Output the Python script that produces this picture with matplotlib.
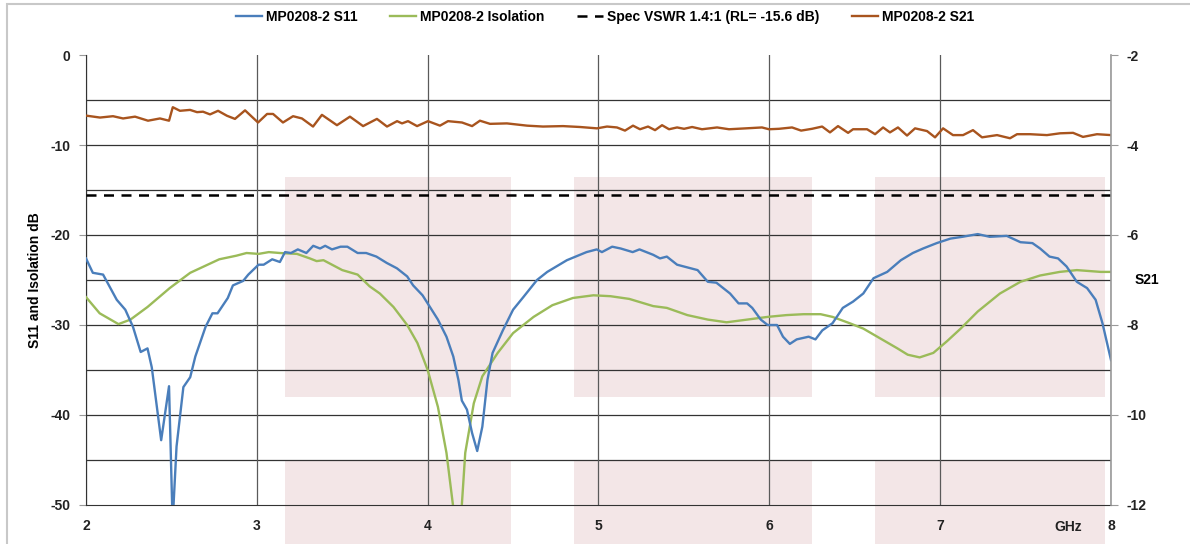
import matplotlib
matplotlib.use("Agg")
import matplotlib.pyplot as plt
from matplotlib.patches import Rectangle

plt.rcParams['font.family'] = ['Liberation Sans', 'DejaVu Sans']
plt.rcParams['font.weight'] = 'bold'
plt.rcParams['axes.unicode_minus'] = False

# S11 (dB) vs GHz
s11_f = [2.0, 2.04, 2.10, 2.18, 2.23, 2.275, 2.32, 2.36, 2.385, 2.44, 2.46, 2.486, 2.507, 2.53, 2.57,
         2.61, 2.64, 2.70, 2.74, 2.77, 2.83, 2.86, 2.92, 2.95, 3.01, 3.04, 3.09, 3.135, 3.165, 3.20,
         3.24, 3.29, 3.33, 3.37, 3.40, 3.44, 3.49, 3.53, 3.59, 3.64, 3.70, 3.76, 3.82, 3.88, 3.915,
         3.97, 4.0, 4.06, 4.11, 4.15, 4.18, 4.20, 4.23, 4.26, 4.29, 4.32, 4.35, 4.38, 4.44, 4.50,
         4.56, 4.64, 4.70, 4.815, 4.93, 4.99, 5.02, 5.08, 5.13, 5.20, 5.24, 5.32, 5.36, 5.40, 5.46,
         5.58, 5.64, 5.69, 5.77, 5.82, 5.87, 5.90, 5.95, 5.99, 6.045, 6.08, 6.12, 6.16, 6.23, 6.27,
         6.31, 6.37, 6.43, 6.49, 6.55, 6.61, 6.69, 6.77, 6.84, 6.90, 6.98, 7.06, 7.13, 7.22, 7.29,
         7.39, 7.47, 7.54, 7.585, 7.64, 7.69, 7.74, 7.80, 7.86, 7.91, 7.95, 8.0]
s11_db = [-22.6, -24.2, -24.4, -27.2, -28.3, -30.2, -33.0, -32.6, -34.7, -42.8, -40.2, -36.8, -52.0, -43.5, -36.9,
          -35.8, -33.5, -30.2, -28.7, -28.7, -27.0, -25.6, -25.1, -24.4, -23.3, -23.3, -22.7, -23.0, -21.9, -22.0,
          -21.6, -22.0, -21.2, -21.5, -21.2, -21.6, -21.3, -21.3, -22.0, -22.0, -22.4, -23.1, -23.7, -24.6, -25.6,
          -26.7, -27.6, -29.4, -31.3, -33.5, -36.1, -38.4, -39.4, -42.0, -44.0, -41.3, -36.1, -33.1, -30.6, -28.3,
          -26.9, -25.0, -24.1, -22.8, -21.9, -21.6, -21.9, -21.3, -21.5, -21.9, -21.6, -22.2, -22.6, -22.4, -23.3,
          -23.9, -25.2, -25.3, -26.5, -27.6, -27.6, -28.1, -29.4, -30.0, -30.0, -31.3, -32.1, -31.6, -31.3, -31.6,
          -30.6, -29.8, -28.1, -27.4, -26.5, -24.8, -24.1, -22.8, -22.0, -21.5, -20.9, -20.4, -20.2, -19.9, -20.2,
          -20.1, -20.8, -20.9, -21.5, -22.4, -22.6, -23.5, -25.2, -25.9, -27.2, -29.8, -33.9]

# Isolation (dB) vs GHz
iso_f = [2.0, 2.08, 2.19, 2.26, 2.36, 2.49, 2.61, 2.78, 2.88, 2.94, 3.01, 3.07, 3.135, 3.235, 3.31,
         3.35, 3.39, 3.50, 3.59, 3.66, 3.72, 3.80, 3.88, 3.94, 4.0, 4.06, 4.11, 4.148, 4.175, 4.20,
         4.22, 4.27, 4.32, 4.41, 4.50, 4.62, 4.73, 4.85, 4.97, 5.07, 5.18, 5.32, 5.40, 5.52, 5.64,
         5.75, 5.87, 5.99, 6.10, 6.20, 6.30, 6.37, 6.47, 6.55, 6.65, 6.75, 6.81, 6.88, 6.96, 7.04,
         7.12, 7.22, 7.35, 7.47, 7.585, 7.70, 7.80, 7.94, 8.0]
iso_db = [-26.9, -28.7, -29.9, -29.4, -28.0, -25.9, -24.2, -22.7, -22.3, -22.0, -22.1, -21.9, -22.0, -22.1, -22.6,
          -22.9, -22.8, -23.9, -24.4, -25.7, -26.5, -28.0, -30.0, -32.0, -35.0, -39.1, -44.2, -50.0, -56.0, -50.0,
          -44.2, -38.7, -35.7, -33.1, -30.9, -29.1, -27.8, -27.0, -26.7, -26.8, -27.1, -27.9, -28.1, -28.9, -29.4,
          -29.7, -29.4, -29.1, -28.9, -28.8, -28.8, -29.1, -29.8, -30.4, -31.5, -32.6, -33.3, -33.6, -33.1, -31.8,
          -30.4, -28.5, -26.5, -25.2, -24.5, -24.1, -23.9, -24.1, -24.1]

# S21 (dB, right axis) vs GHz
s21_f = [2.006, 2.082, 2.158, 2.217, 2.287, 2.363, 2.433, 2.486, 2.508, 2.550, 2.609, 2.650, 2.685, 2.726, 2.773,
         2.825, 2.872, 2.931, 3.007, 3.060, 3.095, 3.153, 3.212, 3.264, 3.329, 3.381, 3.469, 3.545, 3.622, 3.703,
         3.762, 3.821, 3.850, 3.885, 3.938, 4.002, 4.072, 4.119, 4.201, 4.260, 4.306, 4.365, 4.464, 4.582, 4.675,
         4.792, 4.892, 4.991, 5.050, 5.108, 5.155, 5.202, 5.243, 5.290, 5.331, 5.372, 5.413, 5.460, 5.501, 5.548,
         5.606, 5.694, 5.764, 5.863, 5.957, 5.998, 6.057, 6.133, 6.186, 6.250, 6.309, 6.355, 6.402, 6.461, 6.490,
         6.572, 6.619, 6.666, 6.706, 6.753, 6.806, 6.853, 6.923, 6.970, 7.017, 7.075, 7.134, 7.192, 7.245, 7.333,
         7.409, 7.450, 7.526, 7.625, 7.702, 7.778, 7.836, 7.918, 8.0]
s21_db = [-3.35, -3.39, -3.36, -3.41, -3.37, -3.46, -3.41, -3.46, -3.16, -3.24, -3.22, -3.27, -3.26, -3.32, -3.24,
          -3.35, -3.42, -3.23, -3.50, -3.31, -3.31, -3.50, -3.36, -3.41, -3.59, -3.33, -3.56, -3.37, -3.58, -3.42,
          -3.59, -3.47, -3.52, -3.47, -3.58, -3.47, -3.57, -3.47, -3.50, -3.58, -3.46, -3.53, -3.52, -3.57, -3.59,
          -3.58, -3.60, -3.63, -3.59, -3.61, -3.68, -3.57, -3.65, -3.59, -3.67, -3.56, -3.65, -3.61, -3.64, -3.60,
          -3.65, -3.61, -3.65, -3.63, -3.61, -3.65, -3.64, -3.61, -3.68, -3.64, -3.59, -3.72, -3.58, -3.73, -3.65,
          -3.65, -3.76, -3.61, -3.72, -3.61, -3.79, -3.63, -3.69, -3.83, -3.63, -3.78, -3.78, -3.67, -3.83, -3.78,
          -3.85, -3.76, -3.76, -3.78, -3.74, -3.73, -3.82, -3.76, -3.78]

spec_rl = -15.6
bands = [(3.165, 4.488), (4.857, 6.247), (6.619, 7.965)]

fig = plt.figure(figsize=(11.9, 5.44), dpi=100)
ax = fig.add_axes([86/1190, 1-505/544, (1111-86)/1190, (505-55)/544])
ax2 = ax.twinx()

# pink bands (split around -38..-45)
for a, b in bands:
    ax.add_patch(Rectangle((a, -38.0), b-a, 24.4, facecolor='#f3e6e7', edgecolor='none', zorder=0.2))
    ax.add_patch(Rectangle((a, -60.0), b-a, 15.0, facecolor='#f3e6e7', edgecolor='none', zorder=0.2, clip_on=False))

ax.set_xlim(2, 8)
ax.set_ylim(-50, 0)
ax.set_xticks(range(2, 9))
ax.set_yticks(range(-50, 1, 10))
ax.grid(True, which='major', axis='x', color='#5a5a5a', lw=0.9, zorder=0.5)
for yv in range(-45, 0, 5):
    ax.axhline(yv, color='#333333', lw=0.9, zorder=0.5)

l_iso, = ax.plot(iso_f, iso_db, color='#9bbb59', lw=1.7, label='MP0208-2 Isolation', zorder=3)
l_s11, = ax.plot(s11_f, s11_db, color='#4a7ebb', lw=1.7, label='MP0208-2 S11', zorder=3.5)
l_spec = ax.axhline(spec_rl, color='black', lw=1.8, ls=(0, (4, 3)), label='Spec VSWR 1.4:1 (RL= -15.6 dB)', zorder=3)

ax2.set_ylim(-12, -2)
ax2.set_yticks(range(-12, -1, 2))
l_s21, = ax2.plot(s21_f, s21_db, color='#a8541e', lw=1.7, label='MP0208-2 S21')

ax.spines['top'].set_visible(False)
ax2.spines['top'].set_visible(False)
ax.spines['left'].set_color('#333333')
ax.spines['bottom'].set_color('#333333')
ax2.spines['right'].set_color('#999999')
ax2.spines['right'].set_linewidth(1.2)
ax2.spines['left'].set_visible(False)
ax2.spines['bottom'].set_visible(False)
ax.spines['right'].set_visible(False)

ax.tick_params(axis='y', length=5, color='#999999', labelsize=10, pad=6, labelcolor='#222222')
ax.tick_params(axis='x', length=0, labelsize=10, pad=10, labelcolor='#222222')
ax2.tick_params(axis='y', length=5, color='#999999', labelsize=10, pad=6, labelcolor='#222222')

ax.set_ylabel('S11 and Isolation dB', fontsize=10, fontweight='bold', labelpad=6)
ax2.set_ylabel('S21', fontsize=10, fontweight='bold', rotation=0, va='center', ha='center')
ax2.yaxis.set_label_coords((1147-86)/1025, 0.5)
ax.text(1068, 17, 'GHz', transform=None, fontsize=10, fontweight='bold', ha='center', va='center', color='#222222')

fig.legend(handles=[l_s11, l_iso, l_spec, l_s21], loc='center', bbox_to_anchor=(605/1190, 1-17/544),
           ncol=4, frameon=False, fontsize=10, handlelength=1.9, handletextpad=0.3, columnspacing=2.3)

fig.add_artist(Rectangle((7/1190, -0.1), 1.2, 1.1-4/544, transform=fig.transFigure,
                         facecolor='none', edgecolor='#c8c8c8', lw=1.5))

fig.savefig('out.png', dpi=100)
